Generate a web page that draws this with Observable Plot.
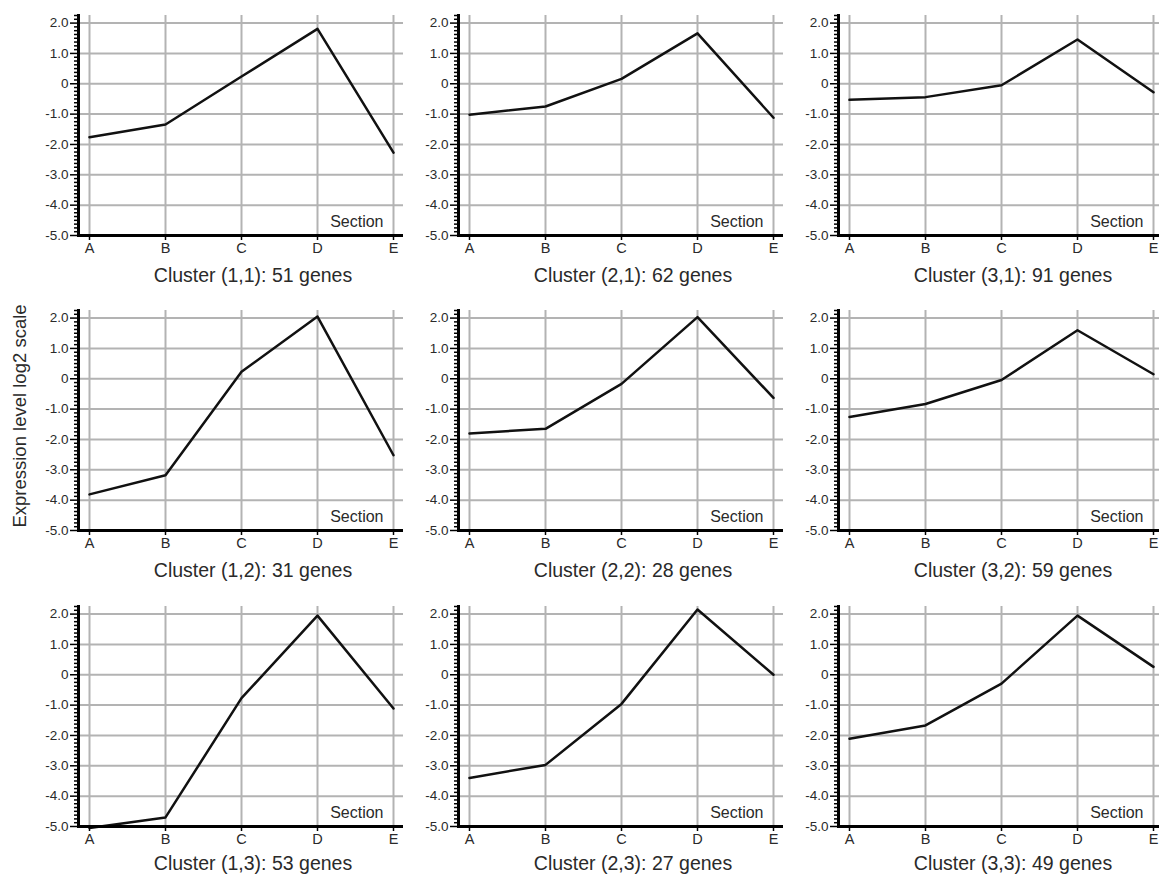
<!DOCTYPE html>
<html>
<head>
<meta charset="utf-8">
<script src="https://cdn.jsdelivr.net/npm/d3@7"></script>
<script src="https://cdn.jsdelivr.net/npm/@observablehq/plot@0.6"></script>
<style>
  body { margin: 0; background: #fff; font-family: "Liberation Sans", Arial, Helvetica, sans-serif; }
  #chart { position: relative; width: 1159px; height: 874px; overflow: hidden; background: #fff; }
  .panel { position: absolute; width: 410px; height: 294px; }
  .panel svg { max-width: none !important; }
  .panel g[aria-label="y-axis tick label"], .panel g[aria-label="y-axis tick label"] text { font-size: 13.5px !important; fill: #2a2a2a; }
  .panel g[aria-label="x-axis tick label"], .panel g[aria-label="x-axis tick label"] text { font-size: 14.5px !important; fill: #2a2a2a; }
  #ylabel { position: absolute; left: 20px; top: 416px; transform: translate(-50%, -50%) rotate(-90deg);
            white-space: nowrap; font-size: 18.5px; color: #2a2a2a; }
</style>
</head>
<body>
<div id="chart"><div id="ylabel">Expression level log2 scale</div></div>
<script>
// ---- data ----
const sections = ["A", "B", "C", "D", "E"];
const yTickValues = [-5, -4, -3, -2, -1, 0, 1, 2];
const gridValues = [-4, -3, -2, -1, 0, 1, 2];
const clusterNames = ["Cluster (1,1)", "Cluster (2,1)", "Cluster (3,1)",
                      "Cluster (1,2)", "Cluster (2,2)", "Cluster (3,2)",
                      "Cluster (1,3)", "Cluster (2,3)", "Cluster (3,3)"];
const geneCounts = [51, 62, 91, 31, 28, 59, 53, 27, 49];
const c11 = [-1.76, -1.34, 0.24, 1.81, -2.27];
const c21 = [-1.02, -0.75, 0.16, 1.66, -1.12];
const c31 = [-0.53, -0.44, -0.05, 1.46, -0.28];
const c12 = [-3.81, -3.18, 0.23, 2.05, -2.52];
const c22 = [-1.80, -1.65, -0.17, 2.03, -0.63];
const c32 = [-1.26, -0.83, -0.04, 1.60, 0.15];
const c13 = [-5.05, -4.70, -0.77, 1.95, -1.11];
const c23 = [-3.40, -2.97, -0.96, 2.15, 0.00];
const c33 = [-2.11, -1.67, -0.29, 1.95, 0.26];
const seriesValues = [c11, c21, c31, c12, c22, c32, c13, c23, c33];
const sectionLabel = "Section";

// ---- layout ----
const colLeft = [0, 380, 760];
const rowTop = [0, 294.5, 590.5];
const titleOffset = [40, 40, 37];
const minorTicks = d3.range(-5, 2.25 + 1e-9, 0.125).filter(v => Math.abs(v - Math.round(v)) > 1e-9);
const fmt = v => v === 0 ? "0" : v.toFixed(1);
const font = '"Liberation Sans", Arial, Helvetica, sans-serif';

const chart = document.getElementById("chart");
seriesValues.forEach((vals, k) => {
  const col = k % 3, row = Math.floor(k / 3);
  const data = sections.map((s, i) => ({section: s, value: vals[i]}));
  const title = `${clusterNames[k]}: ${geneCounts[k]} genes`;
  const plot = Plot.plot({
    width: 410, height: 294,
    marginLeft: 78, marginRight: 7, marginTop: 15, marginBottom: 59,
    style: {background: "none", fontFamily: font, fontSize: "14px", color: "#2a2a2a", overflow: "visible", maxWidth: "none"},
    x: {type: "point", domain: sections, padding: 0, insetLeft: 9, insetRight: 9},
    y: {domain: [-5, 2.25]},
    marks: [
      Plot.ruleY(gridValues, {stroke: "#b3b3b3", strokeWidth: 2}),
      Plot.ruleX(sections, {stroke: "#b3b3b3", strokeWidth: 2}),
      Plot.line(data, {x: "section", y: "value", stroke: "#111", strokeWidth: 2.5}),
      Plot.ruleY([-5], {stroke: "#000", strokeWidth: 3}),
      Plot.axisY(minorTicks, {tickSize: 4, stroke: "#000", strokeWidth: 1.5, text: null, label: null}),
      Plot.axisY(yTickValues, {tickSize: 8, tickPadding: 2, tickFormat: fmt, fontSize: 13.5, stroke: "#000", strokeWidth: 1.5, label: null}),
      Plot.frame({anchor: "left", stroke: "#000", strokeWidth: 3}),
      Plot.axisX({tickSize: 5, tickPadding: 2, fontSize: 14.5, stroke: "#000", strokeWidth: 1.5, label: null}),
      Plot.text([sectionLabel], {text: d => d, frameAnchor: "bottom-right", textAnchor: "end", lineAnchor: "middle", dx: -20, dy: -14, fontSize: 16, fill: "#2a2a2a"}),
      Plot.text([title], {text: d => d, frameAnchor: "bottom", lineAnchor: "middle", dx: 12, dy: titleOffset[row], fontSize: 19.5, fill: "#2a2a2a"})
    ]
  });
  const div = document.createElement("div");
  div.className = "panel";
  div.style.left = colLeft[col] + "px";
  div.style.top = rowTop[row] + "px";
  div.appendChild(plot);
  chart.appendChild(div);
});
</script>
</body>
</html>
